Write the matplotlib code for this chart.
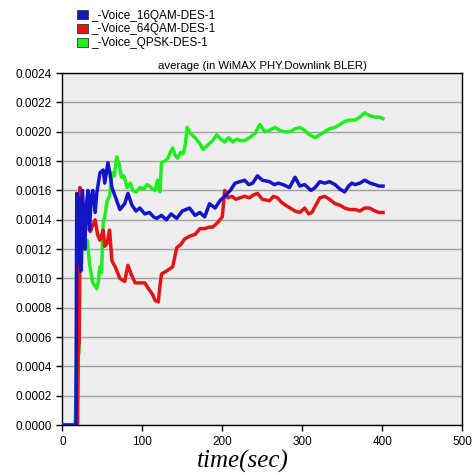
import numpy as np
import matplotlib
matplotlib.use("Agg")
import matplotlib.pyplot as plt
from matplotlib.patches import Patch
from matplotlib.ticker import FormatStrFormatter, MultipleLocator

# BLER samples (time in sec, values in units of 1e-4)
t_16qam = [0, 17, 18, 19, 21, 23, 25, 28, 30, 32,
           34, 36, 38, 41, 43, 47, 51, 53, 57, 60,
           62, 66, 72, 78, 82, 87, 92, 97, 103, 109,
           114, 118, 124, 130, 136, 143, 150, 159, 166, 172,
           178, 184, 191, 197, 203, 210, 216, 222, 228, 233,
           238, 244, 250, 259, 265, 270, 276, 284, 291, 297,
           303, 311, 316, 322, 328, 334, 341, 347, 353, 358,
           362, 366, 372, 378, 385, 391, 396, 401]
bler_16qam = [0, 0, 15.8, 11.0, 15.5, 10.5, 16.0, 12.0, 15.0, 16.0,
              13.3, 15.5, 16.0, 14.5, 15.8, 17.2, 17.4, 16.5, 17.9, 17.0,
              16.2, 15.6, 14.7, 15.1, 15.8, 15.0, 14.6, 14.8, 14.4, 14.5,
              14.2, 14.1, 14.3, 14.0, 14.4, 14.1, 14.6, 14.8, 14.3, 14.5,
              14.2, 15.1, 14.8, 15.3, 15.6, 16.0, 16.5, 16.6, 16.7, 16.4,
              16.5, 17.0, 16.7, 16.6, 16.4, 16.5, 16.4, 16.2, 16.9, 16.3,
              16.4, 16.0, 16.2, 16.6, 16.5, 16.6, 16.4, 16.1, 15.9, 16.3,
              16.5, 16.4, 16.5, 16.7, 16.5, 16.4, 16.3, 16.3]

t_64qam = [0, 19, 20, 21, 22, 23, 25, 28, 30, 32,
           35, 37, 41, 44, 47, 51, 53, 56, 59, 62,
           66, 72, 78, 82, 86, 91, 97, 103, 109, 113,
           116, 120, 122, 124, 130, 138, 143, 148, 153, 160,
           166, 172, 178, 184, 188, 194, 197, 200, 203, 207,
           212, 217, 222, 228, 234, 239, 244, 250, 259, 264,
           269, 274, 279, 285, 291, 297, 303, 308, 312, 317,
           322, 328, 334, 341, 347, 353, 359, 366, 372, 378,
           384, 391, 396, 401]
bler_64qam = [0, 0, 5.2, 5.6, 16.2, 14.0, 16.0, 12.6, 15.0, 14.5,
              13.2, 13.5, 14.0, 13.0, 12.6, 13.3, 12.2, 12.4, 13.3, 11.2,
              10.8, 10.0, 9.8, 10.9, 10.3, 9.7, 9.7, 9.7, 9.2, 8.9,
              8.5, 8.4, 9.5, 10.3, 10.5, 10.8, 12.1, 12.3, 12.7, 12.9,
              13.0, 13.4, 13.4, 13.5, 13.5, 13.8, 14.0, 14.2, 16.0, 15.5,
              15.6, 15.4, 15.5, 15.6, 15.5, 15.7, 15.8, 15.4, 15.3, 15.6,
              15.5, 15.2, 15.0, 14.8, 14.6, 14.5, 14.8, 14.4, 14.5, 15.0,
              15.5, 15.6, 15.4, 15.1, 15.0, 14.8, 14.7, 14.7, 14.6, 14.8,
              14.8, 14.6, 14.5, 14.5]

t_qpsk = [0, 16, 17, 18, 20, 21, 22, 24, 26, 28,
          31, 34, 38, 41, 43, 45, 47, 49, 51, 53,
          56, 59, 62, 65, 68, 71, 74, 77, 81, 85,
          88, 92, 97, 102, 106, 109, 113, 116, 119, 122,
          124, 128, 132, 135, 138, 141, 144, 148, 151, 154,
          156, 160, 166, 172, 176, 180, 184, 188, 193, 198,
          203, 208, 213, 218, 223, 228, 234, 241, 247, 253,
          259, 266, 272, 278, 284, 291, 297, 303, 309, 316,
          322, 328, 334, 341, 347, 353, 359, 366, 372, 378,
          384, 391, 396, 401]
bler_qpsk = [0, 0, 2.0, 4.5, 4.7, 5.0, 12.0, 11.0, 12.3, 12.0,
             12.6, 11.0, 9.7, 9.5, 9.3, 9.8, 10.8, 10.4, 13.8, 14.2,
             15.3, 15.6, 17.2, 17.0, 18.3, 17.8, 16.9, 17.0, 16.2, 16.5,
             16.0, 15.9, 16.2, 16.1, 16.4, 16.3, 16.1, 16.0, 16.7, 15.9,
             17.9, 18.0, 18.2, 18.6, 18.9, 18.4, 18.2, 18.6, 18.5, 19.2,
             20.3, 19.9, 19.6, 19.2, 18.8, 19.0, 19.2, 19.4, 19.8, 19.5,
             19.3, 19.6, 19.3, 19.5, 19.4, 19.4, 19.6, 19.9, 20.5, 20.0,
             20.1, 20.3, 20.1, 20.0, 20.0, 20.2, 20.3, 20.1, 19.8, 19.6,
             19.8, 20.0, 20.2, 20.3, 20.5, 20.7, 20.8, 20.8, 21.0, 21.3,
             21.1, 21.0, 21.0, 20.9]

labels = ["_-Voice_16QAM-DES-1", "_-Voice_64QAM-DES-1", "_-Voice_QPSK-DES-1"]
colors = ["#1414c8", "#e41414", "#1ef01e"]

plt.rcParams["font.family"] = ["Liberation Sans", "DejaVu Sans"]

fig = plt.figure(figsize=(4.76, 4.75), dpi=100)
ax = fig.add_axes([0.131, 0.105, 0.840, 0.741])
ax.set_facecolor("#eeeeee")

scale = 1e-4
ax.plot(t_qpsk, np.array(bler_qpsk) * scale, color=colors[2], lw=2.5, zorder=3)
ax.plot(t_64qam, np.array(bler_64qam) * scale, color=colors[1], lw=2.5, zorder=4)
ax.plot(t_16qam, np.array(bler_16qam) * scale, color=colors[0], lw=2.5, zorder=5)

ax.set_xlim(0, 500)
ax.set_ylim(0, 0.0024)
ax.xaxis.set_major_locator(MultipleLocator(100))
ax.yaxis.set_major_locator(MultipleLocator(0.0002))
ax.yaxis.set_major_formatter(FormatStrFormatter("%.4f"))
ax.grid(axis="y", color="#a0a0a0", lw=1.0)
ax.set_axisbelow(True)
ax.tick_params(labelsize=8.5, length=4, width=1, direction="out")
for s in ax.spines.values():
    s.set_linewidth(1.0)

ax.set_title("average (in WiMAX PHY.Downlink BLER)", fontsize=8.2, pad=3)

handles = [Patch(facecolor=c, edgecolor="#333333", lw=0.6) for c in colors]
fig.legend(handles, labels, loc="upper left", bbox_to_anchor=(0.145, 0.997),
           frameon=False, fontsize=8.5, handlelength=0.95, handleheight=0.8,
           handletextpad=0.25, labelspacing=0.15, borderpad=0.2)

fig.text(0.51, 0.028, "time(sec)", family="Liberation Serif", style="italic",
         fontsize=18, ha="center", va="center")

fig.savefig("out.png", dpi=100)
